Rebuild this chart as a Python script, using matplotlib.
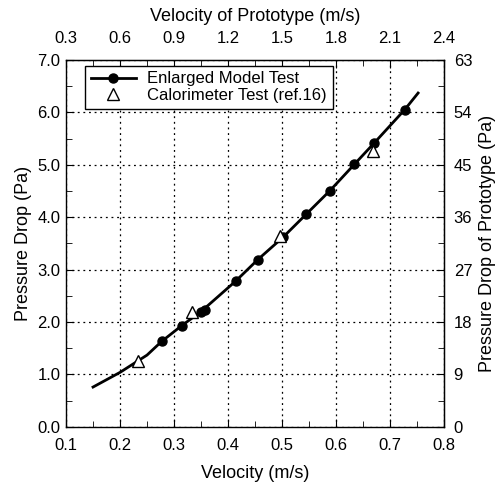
import numpy as np
import matplotlib
matplotlib.use("Agg")
import matplotlib.pyplot as plt
from matplotlib.ticker import MultipleLocator, FormatStrFormatter

plt.rcParams["font.family"] = ["Liberation Sans", "DejaVu Sans"]

# Enlarged model test (filled circles)
model_v = [0.277, 0.314, 0.350, 0.357, 0.414, 0.455, 0.502, 0.545, 0.589, 0.634, 0.671, 0.727]
model_dp = [1.63, 1.93, 2.19, 2.23, 2.78, 3.19, 3.62, 4.06, 4.51, 5.01, 5.42, 6.05]

# Calorimeter test (open triangles)
calo_v = [0.234, 0.334, 0.496, 0.669]
calo_dp = [1.26, 2.20, 3.64, 5.26]

# fitted curve through the model data
curve_v = [0.15, 0.20, 0.25, 0.277, 0.314, 0.350, 0.414, 0.455, 0.502, 0.545, 0.589, 0.634, 0.671, 0.727, 0.752]
curve_dp = [0.76, 1.04, 1.37, 1.63, 1.93, 2.20, 2.78, 3.19, 3.62, 4.06, 4.51, 5.01, 5.42, 6.05, 6.37]

TICK_FS = 12
LABEL_FS = 13

fig = plt.figure(figsize=(5.04, 4.84), dpi=100)
ax = fig.add_axes([0.131, 0.118, 0.750, 0.758])

ax.plot(curve_v, curve_dp, color="black", lw=2.0, zorder=3)
ax.plot(model_v, model_dp, "o", color="black", ms=6.5, zorder=4)
ax.plot(calo_v, calo_dp, "^", mfc="white", mec="black", mew=1.0, ms=8.5, ls="none", zorder=5)

ax.set_xlim(0.1, 0.8)
ax.set_ylim(0.0, 7.0)
ax.xaxis.set_major_locator(MultipleLocator(0.1))
ax.xaxis.set_minor_locator(MultipleLocator(0.05))
ax.yaxis.set_major_locator(MultipleLocator(1.0))
ax.yaxis.set_minor_locator(MultipleLocator(0.5))
ax.xaxis.set_major_formatter(FormatStrFormatter("%.1f"))
ax.yaxis.set_major_formatter(FormatStrFormatter("%.1f"))
ax.tick_params(which="both", direction="in", labelsize=TICK_FS)
ax.tick_params(which="major", length=6)
ax.tick_params(which="minor", length=4)
ax.tick_params(axis="x", pad=8)
ax.tick_params(axis="y", pad=4)
ax.grid(True, which="major", ls=(0, (1.5, 3)), color="black", lw=0.9)
for s in ax.spines.values():
    s.set_linewidth(1.0)

ax.set_xlabel("Velocity (m/s)", fontsize=LABEL_FS, labelpad=9)
ax.set_ylabel("Pressure Drop (Pa)", fontsize=LABEL_FS, labelpad=4)

# prototype scales
top = ax.secondary_xaxis("top", functions=(lambda v: 3 * v, lambda v: v / 3))
top.xaxis.set_major_locator(MultipleLocator(0.3))
top.xaxis.set_minor_locator(MultipleLocator(0.15))
top.xaxis.set_major_formatter(FormatStrFormatter("%.1f"))
top.tick_params(which="both", direction="in", labelsize=TICK_FS, pad=10)
top.tick_params(which="major", length=6)
top.tick_params(which="minor", length=4)
top.set_xlabel("Velocity of Prototype (m/s)", fontsize=LABEL_FS, labelpad=7)

right = ax.secondary_yaxis("right", functions=(lambda p: 9 * p, lambda p: p / 9))
right.yaxis.set_major_locator(MultipleLocator(9))
right.yaxis.set_minor_locator(MultipleLocator(4.5))
right.tick_params(which="both", direction="in", labelsize=TICK_FS, pad=7)
right.tick_params(which="major", length=6)
right.tick_params(which="minor", length=4)
right.set_ylabel("Pressure Drop of Prototype (Pa)", fontsize=LABEL_FS, labelpad=5)

h1, = ax.plot([], [], "-o", color="black", lw=2.0, ms=6.5)
h2, = ax.plot([], [], "^", mfc="white", mec="black", mew=1.0, ms=8.5, ls="none")
leg = ax.legend([h1, h2], ["Enlarged Model Test", "Calorimeter Test (ref.16)"],
                loc="upper left", bbox_to_anchor=(0.05, 0.985), borderaxespad=0,
                fontsize=12, frameon=True, fancybox=False, framealpha=1,
                edgecolor="black", handlelength=2.7, handletextpad=0.7,
                borderpad=0.35, labelspacing=0.1)
leg.get_frame().set_linewidth(1.0)

fig.savefig("out.png", dpi=100)
